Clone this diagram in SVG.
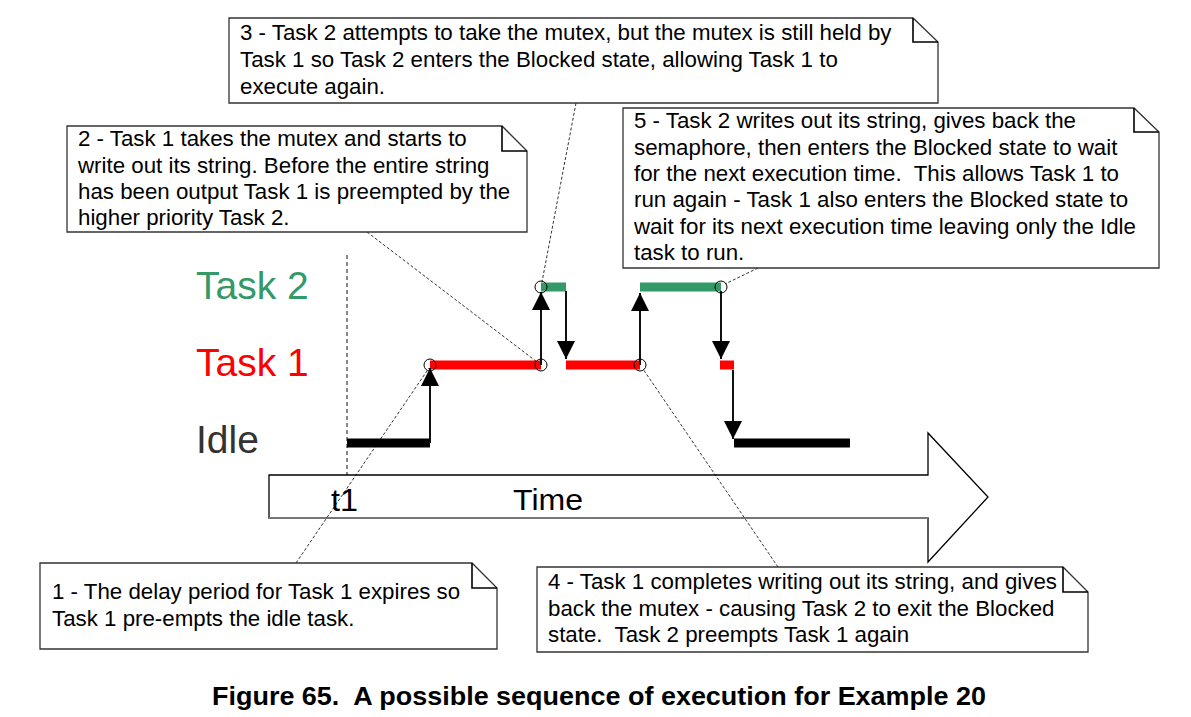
<svg xmlns="http://www.w3.org/2000/svg" width="1191" height="717" viewBox="0 0 1191 717">
<style>
.note{fill:#fff;stroke:#333;stroke-width:1.3}
.fold{fill:none;stroke:#000;stroke-width:1.6}
.nt{font-family:"Liberation Sans",Arial,sans-serif;font-size:22.3px;fill:#000;white-space:pre}
.lead{stroke:#000;stroke-width:0.8;stroke-dasharray:3,2;fill:none}
.arr{stroke:#111;stroke-width:2;fill:none;marker-end:url(#ah)}
.bar{stroke-width:9;fill:none}
.circ{fill:none;stroke:#000;stroke-width:1}
.lab{font-family:"Liberation Sans",Arial,sans-serif;font-size:39px}
</style>
<defs>
<marker id="ah" markerUnits="userSpaceOnUse" markerWidth="18" markerHeight="18" refX="18" refY="9" orient="auto">
<path d="M0,0 L18,9 L0,18 Z" fill="#000"/>
</marker>
</defs>
<rect width="1191" height="717" fill="#fff"/>

<g id="labels">
<text class="lab" x="196" y="299" fill="#339966">Task 2</text>
<text class="lab" x="196" y="376" fill="#ff0000">Task 1</text>
<text class="lab" x="196" y="453" fill="#333">Idle</text>
</g>

<g id="t1-marker">
<line x1="347" y1="255" x2="347" y2="475" stroke="#888" stroke-width="2" stroke-dasharray="4,3"/>
</g>

<g id="time-arrow">
<path d="M269,475 H928 V433 L988,497 L928,562 V518 H269 Z" fill="#fff" stroke="#000" stroke-width="1.3"/>
<line x1="269" y1="518" x2="928" y2="518" stroke="#777" stroke-width="2"/>
<text x="331" y="511" font-family="'Liberation Sans Narrow','Liberation Sans',Arial,sans-serif" font-size="31" fill="#000" textLength="27" lengthAdjust="spacingAndGlyphs">t1</text>
<text x="513" y="510" font-family="'Liberation Sans Narrow','Liberation Sans',Arial,sans-serif" font-size="29" fill="#000" textLength="70" lengthAdjust="spacingAndGlyphs">Time</text>
</g>

<g id="execution-bars">
<line class="bar" x1="347" y1="443" x2="430" y2="443" stroke="#000"/>
<line class="bar" x1="430" y1="365" x2="541" y2="365" stroke="#ff0000"/>
<line class="bar" x1="541" y1="287" x2="566" y2="287" stroke="#339966"/>
<line class="bar" x1="566" y1="365" x2="640" y2="365" stroke="#ff0000"/>
<line class="bar" x1="640" y1="287" x2="721" y2="287" stroke="#339966"/>
<line class="bar" x1="720" y1="365" x2="734" y2="365" stroke="#ff0000"/>
<line class="bar" x1="734" y1="443" x2="850" y2="443" stroke="#000"/>
</g>

<g id="connectors">
<line class="arr" x1="430" y1="443" x2="430" y2="368"/>
<line class="arr" x1="541" y1="365" x2="541" y2="292"/>
<line class="arr" x1="566" y1="291" x2="566" y2="359"/>
<line class="arr" x1="640" y1="365" x2="640" y2="293"/>
<line class="arr" x1="721" y1="291" x2="721" y2="359"/>
<line class="arr" x1="733" y1="370" x2="733" y2="439"/>
<line class="lead" x1="296" y1="563" x2="429" y2="368"/>
<line class="lead" x1="367" y1="232" x2="537" y2="362"/>
<line class="lead" x1="576" y1="103" x2="542" y2="282"/>
<line class="lead" x1="778" y1="567" x2="643" y2="369"/>
<line class="lead" x1="758" y1="268" x2="725" y2="284"/>
</g>

<g id="event-points">
<circle class="circ" cx="430" cy="365" r="6"/>
<circle class="circ" cx="541" cy="365" r="6"/>
<circle class="circ" cx="541" cy="287" r="6"/>
<circle class="circ" cx="640" cy="365" r="6"/>
<circle class="circ" cx="721" cy="287" r="6"/>
</g>

<g id="note3">
<path class="note" d="M229,18 H913 L938,42 V103 H229 Z"/>
<path class="fold" d="M913,18 V42 H938"/>
<text class="nt" x="240" y="40">3 - Task 2 attempts to take the mutex, but the mutex is still held by</text>
<text class="nt" x="240" y="67">Task 1 so Task 2 enters the Blocked state, allowing Task 1 to</text>
<text class="nt" x="240" y="94">execute again.</text>
</g>

<g id="note2">
<path class="note" d="M67,126 H502 L527,151 V232 H67 Z"/>
<path class="fold" d="M502,126 V151 H527"/>
<text class="nt" x="78" y="146">2 - Task 1 takes the mutex and starts to</text>
<text class="nt" x="78" y="173">write out its string. Before the entire string</text>
<text class="nt" x="78" y="199">has been output Task 1 is preempted by the</text>
<text class="nt" x="78" y="225">higher priority Task 2.</text>
</g>

<g id="note5">
<path class="note" d="M623,108 H1134 L1159,132 V268 H623 Z"/>
<path class="fold" d="M1134,108 V132 H1159"/>
<text class="nt" x="634" y="128">5 - Task 2 writes out its string, gives back the</text>
<text class="nt" x="634" y="155">semaphore, then enters the Blocked state to wait</text>
<text class="nt" x="634" y="181">for the next execution time.  This allows Task 1 to</text>
<text class="nt" x="634" y="207">run again - Task 1 also enters the Blocked state to</text>
<text class="nt" x="634" y="234">wait for its next execution time leaving only the Idle</text>
<text class="nt" x="634" y="260">task to run.</text>
</g>

<g id="note1">
<path class="note" d="M40,563 H472 L497,588 V649 H40 Z"/>
<path class="fold" d="M472,563 V588 H497"/>
<text class="nt" x="52" y="599">1 - The delay period for Task 1 expires so</text>
<text class="nt" x="52" y="626">Task 1 pre-empts the idle task.</text>
</g>

<g id="note4">
<path class="note" d="M537,567 H1063 L1088,592 V652 H537 Z"/>
<path class="fold" d="M1063,567 V592 H1088"/>
<text class="nt" x="548" y="589">4 - Task 1 completes writing out its string, and gives</text>
<text class="nt" x="548" y="616">back the mutex - causing Task 2 to exit the Blocked</text>
<text class="nt" x="548" y="642">state.  Task 2 preempts Task 1 again</text>
</g>

<g id="caption">
<text x="212" y="705" font-family="'Liberation Sans',Arial,sans-serif" font-size="25" font-weight="bold" fill="#000" textLength="774" lengthAdjust="spacingAndGlyphs" style="white-space:pre">Figure 65.  A possible sequence of execution for Example 20</text>
</g>
</svg>
